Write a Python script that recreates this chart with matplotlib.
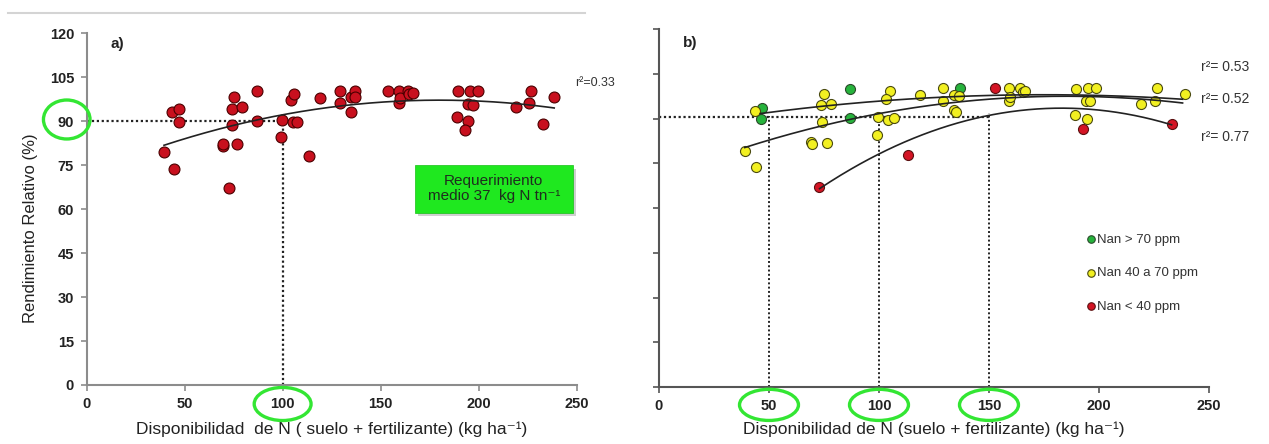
import numpy as np
import matplotlib
matplotlib.use("Agg")
import matplotlib.pyplot as plt
from matplotlib.patches import Ellipse, Rectangle
from matplotlib.lines import Line2D

plt.rcParams['font.family'] = ['Liberation Sans', 'DejaVu Sans']

# ---------------- data: panel a ----------------
a_x = [39.6, 44.6, 43.8, 47.3, 47.3, 72.9, 69.4, 69.8, 76.5, 74.4, 75.4, 74.0, 79.2,
       86.9, 86.9, 99.4, 99.8, 104.2, 105.6, 105.2, 107.3, 113.5, 119.2, 129.2, 129.2,
       134.8, 134.8, 136.9, 136.9, 153.5, 159.4, 159.4, 159.8, 164.0, 164.6, 166.7,
       189.6, 189.0, 194.6, 193.1, 194.6, 195.8, 199.4, 197.3, 219.2, 225.6, 226.5,
       232.7, 238.5]
a_y = [79.6, 73.7, 93.1, 94.1, 89.9, 67.2, 81.4, 82.2, 82.3, 88.7, 98.2, 94.1, 94.7,
       100.3, 90.1, 84.7, 90.5, 97.3, 99.2, 89.9, 89.9, 78.1, 97.8, 100.3, 96.3,
       93.2, 98.4, 100.3, 98.4, 100.3, 100.3, 96.1, 97.8, 100.3, 99.2, 99.5,
       100.3, 91.6, 90.1, 87.1, 95.8, 100.3, 100.3, 95.6, 94.8, 96.3, 100.3,
       88.9, 98.4]
a_curve_coef = [71.93, 0.2808, -0.00078]   # c0, c1, c2
a_curve_range = [39.5, 238.5]
a_r2 = "r\u00b2=0.33"

# ---------------- data: panel b ----------------
g_x = [46.8, 46.2, 86.6, 86.6, 136.7]
g_y = [93.6, 89.7, 100.0, 90.1, 100.1]
y_x = [43.6, 39.1, 44.3, 75.1, 73.7, 78.3, 74.0, 69.0, 69.4, 76.3, 105.2, 103.3, 99.6,
       104.1, 106.7, 99.3, 118.7, 129.3, 128.9, 134.0, 136.4, 134.3, 134.9, 159.0,
       159.0, 164.2, 165.5, 166.4, 159.4, 189.6, 195.2, 198.5, 193.9, 195.7, 189.2,
       194.6, 219.3, 225.4, 226.3, 239.1]
y_y = [92.5, 79.2, 73.8, 98.3, 94.5, 94.8, 89.0, 82.3, 81.4, 81.9, 99.2, 96.7, 90.5,
       89.5, 90.1, 84.5, 97.8, 100.1, 95.9, 97.9, 97.5, 92.9, 92.3, 100.1,
       95.9, 100.1, 99.0, 99.4, 97.3, 99.8, 100.1, 100.1, 95.9, 95.9, 91.2,
       89.7, 95.0, 95.9, 100.1, 98.3]
r_x = [72.7, 113.0, 152.9, 192.9, 233.0]
r_y = [66.9, 77.9, 100.1, 86.4, 88.3]

g_curve_coef = [86.36, 0.133, -0.00038]
g_curve_range = [46.0, 238.0]
y_curve_coef = [69.88, 0.29859, -0.000807]
y_curve_range = [39.0, 238.0]
r_curve_coef = [18.82, 0.81618, -0.00223]
r_curve_range = [73.0, 233.0]

b_r2_labels = ["r\u00b2= 0.53", "r\u00b2= 0.52", "r\u00b2= 0.77"]
b_r2_y = [107.4, 96.5, 83.9]
legend_labels = ["Nan > 70 ppm", "Nan 40 a 70 ppm", "Nan < 40 ppm"]

x_ticks = [0, 50, 100, 150, 200, 250]
y_ticks = [0, 15, 30, 45, 60, 75, 90, 105, 120]
xlabel = "Disponibilidad  de N ( suelo + fertilizante) (kg ha\u207b\u00b9)"
xlabel_b = "Disponibilidad de N (suelo + fertilizante) (kg ha\u207b\u00b9)"
ylabel = "Rendimiento Relativo (%)"
box_text = "Requerimiento\nmedio 37  kg N tn\u207b\u00b9"
target_y = 90
target_x_a = [100]
target_x_b = [50, 100, 150]
target_top_b = [91.0, 90.0, 91.8]

GREEN_RING = '#33e633'


def curve(ax, coef, rng):
    xs = np.linspace(rng[0], rng[1], 200)
    ys = coef[0] + coef[1] * xs + coef[2] * xs ** 2
    ax.plot(xs, ys, color='#222222', lw=1.2, zorder=4)


def style_axes(ax, spine_color, ylabels=True):
    for s in ['top', 'right']:
        ax.spines[s].set_visible(False)
    for s in ['left', 'bottom']:
        ax.spines[s].set_color(spine_color)
        ax.spines[s].set_linewidth(1.5)
    ax.set_xlim(0, 250)
    ax.set_ylim(0, 120)
    ax.set_xticks(x_ticks)
    ax.set_yticks(y_ticks)
    ax.tick_params(direction='out', length=4, width=1.2, color=spine_color,
                   labelsize=10.5, labelcolor='#222222', pad=5)
    for lab in ax.get_xticklabels() + ax.get_yticklabels():
        lab.set_fontweight('bold')
    if not ylabels:
        ax.set_yticklabels([])


fig = plt.figure(figsize=(12.69, 4.44), dpi=100)
fig.add_artist(Line2D([8 / 1269, 585 / 1269], [1 - 13 / 444, 1 - 13 / 444],
                      color='#d4d4d4', lw=1.5))

# ---------------- panel a ----------------
ax1 = fig.add_axes([0.0682, 0.1329, 0.3863, 0.792])
style_axes(ax1, '#8c8c8c')
ax1.scatter(a_x, a_y, s=62, color='#c8101e', edgecolors='#4a0000', linewidths=0.8, zorder=3)
curve(ax1, a_curve_coef, a_curve_range)
ax1.plot([0, target_x_a[0]], [target_y, target_y], ls=(0, (1, 1.2)), color='#222222', lw=1.6, zorder=2)
ax1.plot([target_x_a[0], target_x_a[0]], [0, target_y], ls=(0, (1, 1.2)), color='#222222', lw=1.6, zorder=2)
ax1.text(249.4, 103.1, a_r2, fontsize=9, color='#333333', va='center', ha='left', clip_on=False)
ax1.text(12, 116.5, "a)", fontsize=11, fontweight='bold', color='#222222', va='center')
ax1.set_xlabel(xlabel, fontsize=12.5, color='#222222', labelpad=7)
ax1.set_ylabel(ylabel, fontsize=12, color='#222222')
ax1.yaxis.set_label_coords(-0.1, 0.445)
# green box
ax1.add_patch(Rectangle((169.0, 57.5), 80.5, 16.3, facecolor='#cfcfcf', edgecolor='none',
                        zorder=4, clip_on=False))
ax1.add_patch(Rectangle((167.5, 58.7), 80.5, 16.3, facecolor='#1fe81f', edgecolor='#16c016',
                        lw=0.5, zorder=5, clip_on=False))
ax1.text(207.7, 66.9, box_text, ha='center', va='center', fontsize=11, color='#1e2e1e',
         zorder=6, linespacing=1.1)
# rings
ax1.add_patch(Ellipse((-0.0404, target_y + 0.6), 0.095, 13.3, transform=ax1.get_yaxis_transform(),
                      fill=False, edgecolor=GREEN_RING, lw=2.4, clip_on=False, zorder=6))
for xv in target_x_a:
    ax1.add_patch(Ellipse((xv, -0.054), 29, 0.094, transform=ax1.get_xaxis_transform(),
                          fill=False, edgecolor=GREEN_RING, lw=2.4, clip_on=False, zorder=6))

# ---------------- panel b ----------------
ax2 = fig.add_axes([0.5193, 0.1284, 0.4334, 0.806])
style_axes(ax2, '#555555', ylabels=False)
hg = ax2.scatter(g_x, g_y, s=52, color='#26b33c', edgecolors='#2a4a2a', linewidths=0.8, zorder=3)
hy = ax2.scatter(y_x, y_y, s=52, color='#f2f021', edgecolors='#4a4a10', linewidths=0.8, zorder=3)
hr = ax2.scatter(r_x, r_y, s=52, color='#d41424', edgecolors='#5a1010', linewidths=0.8, zorder=3)
curve(ax2, g_curve_coef, g_curve_range)
curve(ax2, y_curve_coef, y_curve_range)
curve(ax2, r_curve_coef, r_curve_range)
ax2.plot([0, target_x_b[-1]], [target_y + 0.5, target_y + 0.5], ls=(0, (1, 1.2)),
         color='#222222', lw=1.6, zorder=2)
for xv, top in zip(target_x_b, target_top_b):
    ax2.plot([xv, xv], [0, top], ls=(0, (1, 1.2)), color='#222222', lw=1.4, zorder=2)
    ax2.add_patch(Ellipse((xv, -0.05), 26.8, 0.087, transform=ax2.get_xaxis_transform(),
                          fill=False, edgecolor=GREEN_RING, lw=2.4, clip_on=False, zorder=6))
for lab, yv in zip(b_r2_labels, b_r2_y):
    ax2.text(246.4, yv, lab, fontsize=10, color='#333333', va='center', ha='left', clip_on=False)
ax2.text(11, 115.3, "b)", fontsize=11, fontweight='bold', color='#222222', va='center')
ax2.set_xlabel(xlabel_b, fontsize=12.5, color='#222222', labelpad=6)
leg = ax2.legend([hg, hy, hr], legend_labels, loc='upper left', bbox_to_anchor=(0.762, 0.447),
                 frameon=False, markerscale=0.75, handletextpad=0.05, handlelength=0.9,
                 labelspacing=1.6, fontsize=9.5, borderpad=0)
for t in leg.get_texts():
    t.set_color('#333333')

fig.savefig("out.png", dpi=100)
